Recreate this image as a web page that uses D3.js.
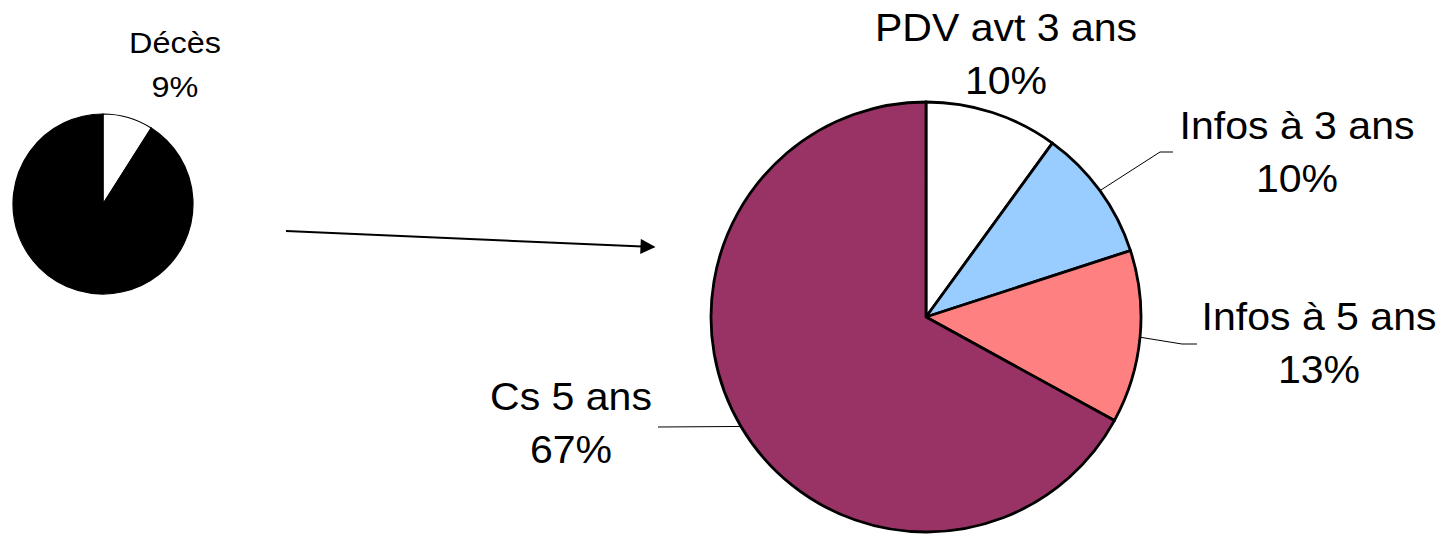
<!DOCTYPE html>
<html>
<head>
<meta charset="utf-8">
<script src="https://cdn.jsdelivr.net/npm/d3@7"></script>
<style>
  body { margin: 0; background: #fff; }
  text { font-family: "Liberation Sans", Arial, sans-serif; fill: #000; }
</style>
</head>
<body>
<div id="chart"></div>
<script>
// small pie (deaths vs rest)
const smallLabels = ["Décès", "Autres"];
const smallValues = [9, 91];
const smallColors = ["#ffffff", "#000000"];

// big pie (breakdown of the rest)
const bigLabels = ["PDV avt 3 ans", "Infos à 3 ans", "Infos à 5 ans", "Cs 5 ans"];
const bigValues = [10, 10, 13, 67];
const bigColors = ["#ffffff", "#99ccff", "#ff8080", "#993366"];

const W = 1441, H = 536;
const stretch = 1.08; // text in the original is a bit wide

let svg = d3.select("#chart")
    .append("svg")
    .attr("width", W)
    .attr("height", H);

svg.append("defs").append("marker")
    .attr("id", "arrowhead")
    .attr("viewBox", "0 0 10 10")
    .attr("refX", 9)
    .attr("refY", 5)
    .attr("markerWidth", 8)
    .attr("markerHeight", 7.5)
    .attr("markerUnits", "strokeWidth")
    .attr("orient", "auto")
    .append("path")
    .attr("d", "M0,0 L10,5 L0,10 Z")
    .attr("fill", "#000");

let pie = d3.pie().sort(null).value(d => d);

// two-line label, centred on x, first baseline at y
function twoLines(x, y, size, gap, l1, l2) {
    let t = svg.append("text")
        .attr("text-anchor", "middle")
        .attr("transform", `translate(${x},${y}) scale(${stretch},1)`)
        .style("font-size", size + "px");
    t.append("tspan").attr("x", 0).attr("y", 0).text(l1);
    t.append("tspan").attr("x", 0).attr("y", gap).text(l2);
}

// ---- small pie
let smallR = 90;
let smallG = svg.append("g").attr("transform", "translate(103,204)");
let smallArc = d3.arc().innerRadius(0).outerRadius(smallR);

smallG.selectAll("path")
    .data(pie(smallValues))
    .enter()
    .append("path")
    .attr("d", smallArc)
    .attr("fill", (d, i) => smallColors[i])
    .attr("stroke", "#000")
    .attr("stroke-width", 1.2);

twoLines(175, 53, 30, 44, smallLabels[0], smallValues[0] + "%");

// ---- arrow between the two pies
svg.append("line")
    .attr("x1", 286).attr("y1", 231)
    .attr("x2", 654).attr("y2", 247)
    .attr("stroke", "#000")
    .attr("stroke-width", 2)
    .attr("marker-end", "url(#arrowhead)");

// ---- big pie
let cx = 926, cy = 317, bigR = 215;
let bigG = svg.append("g").attr("transform", `translate(${cx},${cy})`);
let bigArc = d3.arc().innerRadius(0).outerRadius(bigR);
let edgeArc = d3.arc().innerRadius(bigR).outerRadius(bigR);
let bigSlices = pie(bigValues);

bigG.selectAll("path")
    .data(bigSlices)
    .enter()
    .append("path")
    .attr("d", bigArc)
    .attr("fill", (d, i) => bigColors[i])
    .attr("stroke", "#000")
    .attr("stroke-width", 2.8)
    .attr("stroke-linejoin", "round");

// label placement: text centre x, first baseline, and leader elbow/end (null = no leader)
const labelPos = [
    { x: 1006, y: 41, leader: null },
    { x: 1297, y: 139, leader: [[1160, 152], [1173, 152]] },
    { x: 1319, y: 330, leader: [[1182, 344], [1197, 344]] },
    { x: 571, y: 410, leader: [[658, 427]] }
];

bigSlices.forEach((s, i) => {
    let p = labelPos[i];
    if (p.leader) {
        let c = edgeArc.centroid(s);
        let pts = [[cx + c[0], cy + c[1]]].concat(p.leader);
        svg.append("path")
            .attr("d", d3.line()(pts))
            .attr("fill", "none")
            .attr("stroke", "#000")
            .attr("stroke-width", 1);
    }
    twoLines(p.x, p.y, 38, 53, bigLabels[i], bigValues[i] + "%");
});
</script>
</body>
</html>
